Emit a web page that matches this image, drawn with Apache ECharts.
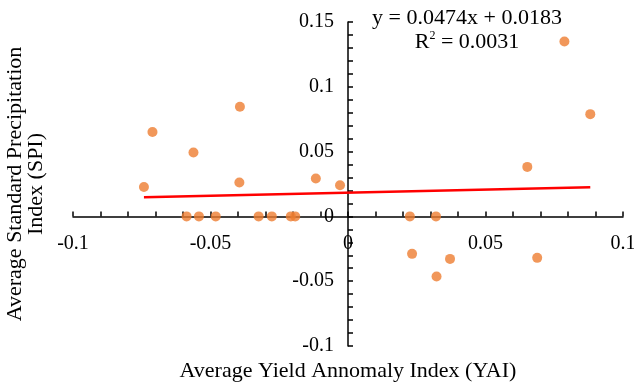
<!DOCTYPE html>
<html>
<head>
<meta charset="utf-8">
<script src="https://cdn.jsdelivr.net/npm/echarts@6/dist/echarts.min.js"></script>
<style>
  html, body { margin: 0; padding: 0; background: #fff; }
  #main { width: 634px; height: 387px; }
</style>
</head>
<body>
<div id="main"></div>
<script type="text/javascript">
    // scatter data
    var yai = [-0.0742, -0.0711, -0.0562, -0.0393, -0.0395, -0.0117, -0.0029,
               -0.0587, -0.0542, -0.0481, -0.0325, -0.0277, -0.0208, -0.0192,
               0.0225, 0.0320, 0.0233, 0.0371, 0.0322, 0.0688,
               0.0652, 0.0787, 0.0881];
    var spi = [0.0227, 0.0651, 0.0493, 0.0846, 0.0261, 0.0292, 0.0240,
               0, 0, 0, 0, 0, 0, 0,
               0, 0, -0.0289, -0.0328, -0.0464, -0.0320,
               0.0382, 0.1349, 0.0789];
    // linear trendline ends
    var trendX = [-0.0742, 0.0881];
    var trendY = [0.0148, 0.0225];
    var equation = 'y = 0.0474x + 0.0183';
    var rSquared = '0.0031';

    var font = '"Liberation Serif", "Times New Roman", serif';
    var fmt = function (v) { return String(+v.toFixed(2)); };

    var points = yai.map(function (x, i) { return [x, spi[i]]; });
    var trend = trendX.map(function (x, i) { return [x, trendY[i]]; });

    // grid box; axes cross at (0, 0) inside it
    var gLeft = 73, gRight = 11, gTop = 22, gBottom = 41;
    var plotW = 634 - gLeft - gRight, plotH = 387 - gTop - gBottom;
    var xZeroOff = -plotH * 0.1 / 0.25;   // lift x axis up to y = 0
    var yZeroOff = -plotW * 0.1 / 0.2;    // push y axis right to x = 0

    var myChart = echarts.init(document.getElementById('main'), null, { renderer: 'canvas' });
    myChart.setOption({
        animation: false,
        grid: { left: gLeft, right: gRight, top: gTop, bottom: gBottom, containLabel: false, outerBoundsMode: 'none' },
        xAxis: {
            type: 'value',
            min: -0.1, max: 0.1, interval: 0.05,
            offset: xZeroOff,
            axisLine: { onZero: false, lineStyle: { color: '#000', width: 1.5 } },
            axisTick: { show: true, inside: true, length: 5, lineStyle: { color: '#000', width: 1.5 } },
            minorTick: { show: true, splitNumber: 5, length: 5, lineStyle: { color: '#000', width: 1.5 } },
            splitLine: { show: false },
            axisLabel: { color: '#000', fontFamily: font, fontSize: 20, margin: 17, formatter: fmt },
            name: 'Average Yield Annomaly Index (YAI)',
            nameLocation: 'middle',
            nameGap: 144,
            nameTextStyle: { color: '#000', fontFamily: font, fontSize: 22 }
        },
        yAxis: {
            type: 'value',
            min: -0.1, max: 0.15, interval: 0.05,
            offset: yZeroOff,
            axisLine: { show: true, onZero: false, lineStyle: { color: '#000', width: 1.5 } },
            axisTick: { show: true, inside: true, length: 5, lineStyle: { color: '#000', width: 1.5 } },
            minorTick: { show: true, splitNumber: 5, length: 5, lineStyle: { color: '#000', width: 1.5 } },
            splitLine: { show: false },
            axisLabel: { color: '#000', fontFamily: font, fontSize: 20, margin: 14, formatter: fmt },
            name: 'Average Standard Precipitation\nIndex (SPI)',
            nameLocation: 'middle',
            nameGap: 301,
            nameTextStyle: { color: '#000', fontFamily: font, fontSize: 22, lineHeight: 21 }
        },
        series: [
            {
                name: 'SPI',
                type: 'scatter',
                data: points,
                symbolSize: 10,
                itemStyle: { color: '#ED7D31' },
                z: 3
            },
            {
                name: 'Linear',
                type: 'line',
                data: trend,
                symbol: 'none',
                lineStyle: { color: '#FF0000', width: 2.5 },
                z: 4
            }
        ],
        graphic: [
            {
                type: 'text',
                x: 467, y: 7,
                style: {
                    text: equation,
                    align: 'center',
                    fill: '#000',
                    font: '22px ' + font
                }
            },
            {
                type: 'text',
                x: 467, y: 30,
                style: {
                    text: '{b|R}{s|2}{b| = ' + rSquared + '}',
                    align: 'center',
                    fill: '#000',
                    rich: {
                        b: { fontFamily: font, fontSize: 22, fill: '#000', verticalAlign: 'bottom' },
                        s: { fontFamily: font, fontSize: 12, fill: '#000', verticalAlign: 'top', padding: [0, 0, 11, 0] }
                    }
                }
            }
        ]
    });
</script>
</body>
</html>
